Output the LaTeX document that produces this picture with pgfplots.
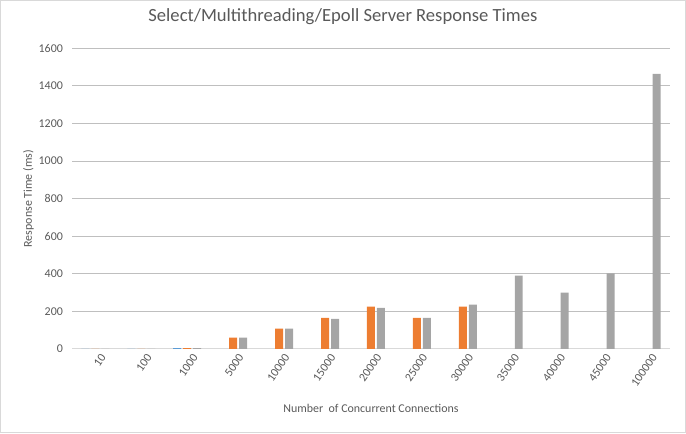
\documentclass[border=0pt]{standalone}
\usepackage{fontspec}
\setmainfont{Carlito}
\usepackage{pgfplots}
\pgfplotsset{compat=1.18}
\definecolor{sblue}{HTML}{5B9BD5}
\definecolor{sorange}{HTML}{ED7D31}
\definecolor{sgray}{HTML}{A5A5A5}
\definecolor{txt}{HTML}{595959}
\definecolor{grid}{HTML}{D9D9D9}
\begin{document}
\begin{tikzpicture}
\draw[grid, line width=1bp, use as bounding box] (-72bp,-84bp) rectangle (614bp,349bp);
\begin{axis}[
  at={(0,0)}, anchor=south west,
  scale only axis, width=598bp, height=301bp,
  ybar=2bp, bar width=8bp,
  xmin=-0.5, xmax=12.5, ymin=0, ymax=1600,
  ytick={0,200,...,1600},
  xtick={0,...,12},
  xticklabels={10,100,1000,5000,10000,15000,20000,25000,30000,35000,40000,45000,100000},
  /pgf/number format/assume math mode=true,
  /pgf/number format/1000 sep={},
  axis x line*=bottom, axis y line*=left,
  x axis line style={grid, line width=1bp, -},
  y axis line style={draw=none, -},
  major tick length=0pt,
  xmajorgrids=false, ymajorgrids=true, grid style={grid, line width=1bp},
  tick label style={font=\fontsize{12}{14}\selectfont, text=txt},
  yticklabel style={xshift=-6bp},
  xticklabel style={rotate=55, anchor=east, xshift=3bp, yshift=-10bp},
  title={Select/Multithreading/Epoll Server Response Times},
  title style={at={(axis description cs:0.453,1.086)}, anchor=center, font=\fontsize{18.7}{22}\selectfont, text=txt},
  xlabel={Number\ \ of Concurrent Connections},
  ylabel={Response Time (ms)},
  every axis x label/.style={at={(axis description cs:0.5,-0.199)}, anchor=center, font=\fontsize{12}{14}\selectfont, text=txt},
  every axis y label/.style={at={(axis description cs:-0.0736,0.5)}, rotate=90, anchor=center, font=\fontsize{12}{14}\selectfont, text=txt},
]
\addplot[fill=sblue, draw=none] coordinates {(0,0) (1,0) (2,5)};
\addplot[fill=sorange, draw=none] coordinates {(0,0) (1,0) (2,5) (3,60) (4,108) (5,165) (6,226) (7,165) (8,226)};
\addplot[fill=sgray, draw=none] coordinates {(0,0) (1,0) (2,5) (3,60) (4,108) (5,160) (6,219) (7,165) (8,236) (9,391) (10,300) (11,402) (12,1465)};
\end{axis}
\end{tikzpicture}
\end{document}
